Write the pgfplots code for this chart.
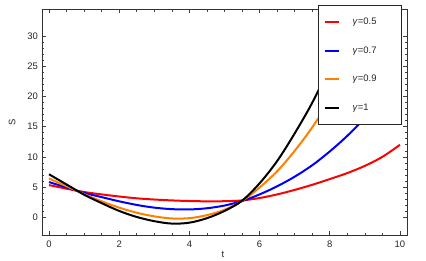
\documentclass[border=0pt]{standalone}
\usepackage{fontspec}
\setmainfont{Liberation Sans}
\usepackage{pgfplots}
\pgfplotsset{compat=1.18}
\definecolor{cred}{RGB}{255,0,0}
\definecolor{cblue}{RGB}{0,0,255}
\definecolor{corange}{RGB}{255,128,0}
\begin{document}
\begin{tikzpicture}
\begin{axis}[name=ax,
  scale only axis, width=365bp, height=225.5bp,
  xmin=-0.2, xmax=10.2, ymin=-3, ymax=34.5,
  xtick={0,2,...,10}, ytick={0,5,...,30},
  minor x tick num=3, minor y tick num=4,
  major tick length=4bp, minor tick length=2.5bp,
  every tick/.style={black!75, line width=0.6bp},
  axis line style={black!80, line width=0.8bp},
  /pgf/number format/assume math mode=true,
  tick label style={font=\fontsize{9.5}{11}\selectfont, text=black!85},
  xticklabel style={yshift=-2bp},
  yticklabel style={xshift=-0.5bp},
  xlabel={t}, ylabel={S},
  label style={font=\fontsize{9.5}{11}\selectfont, text=black!85},
  xlabel style={at={(axis description cs:0.496,-0.072)}, anchor=north, inner sep=0pt},
  ylabel style={at={(axis description cs:-0.082,0.5)}, anchor=center},
  legend style={at={(0.9863,1.02)}, anchor=north east, draw=black!85, line width=0.7bp,
    inner xsep=5bp, inner ysep=12bp, font=\fontsize{9.5}{11}\selectfont, text=black!85,
    row sep=19.7bp, /tikz/column sep=13bp,
    nodes={inner sep=0pt, text width=44bp, align=left, text height=7bp, text depth=2bp}},
  legend cell align=left,
  legend image code/.code={\draw[#1, line width=2bp] (0bp,0bp) -- (14bp,0bp);},
  every axis plot/.append style={line width=2bp, smooth, tension=0.55},
]
\addplot[cred] coordinates {(0,5.3) (0.5,4.7) (1,4.15) (1.5,3.75) (2,3.4) (2.5,3.1) (3,2.9) (3.5,2.75) (4,2.65) (4.5,2.6) (5,2.62) (5.5,2.75) (6,3.15) (6.5,3.75) (7,4.5) (7.5,5.35) (8,6.3) (8.5,7.3) (9,8.5) (9.5,10.0) (10,12.0)};
\addlegendentry{\textit{γ}=0.5}
\addplot[cblue] coordinates {(0,5.8) (0.5,4.9) (1,4.0) (1.5,3.3) (2,2.6) (2.5,2.0) (3,1.55) (3.5,1.3) (4,1.25) (4.5,1.45) (5,1.9) (5.5,2.65) (6,3.75) (6.5,5.1) (7,6.7) (7.5,8.6) (8,10.9) (8.5,13.5) (9,16.5) (9.5,20) (10,24)};
\addlegendentry{\textit{γ}=0.7}
\addplot[corange] coordinates {(0,6.4) (0.5,5.1) (1,3.8) (1.5,2.6) (2,1.55) (2.5,0.7) (3,0.1) (3.5,-0.25) (4,-0.2) (4.5,0.3) (5,1.2) (5.5,2.65) (6,4.9) (6.5,7.6) (7,11.0) (7.5,14.9) (8,19.5) (8.5,25) (9,31) (9.5,38) (10,46)};
\addlegendentry{\textit{γ}=0.9}
\addplot[black] coordinates {(0,7.1) (0.5,5.4) (1,3.7) (1.5,2.3) (2,1.0) (2.5,0.0) (3,-0.7) (3.5,-1.1) (4,-0.95) (4.5,-0.2) (5,1.0) (5.5,2.7) (6,5.6) (6.5,9.3) (7,13.9) (7.5,19.0) (8,25) (8.5,32) (9,40) (9.5,49) (10,59)};
\addlegendentry{\textit{γ}=1}
\end{axis}
\pgfresetboundingbox
\path ([xshift=-42bp,yshift=-26bp]ax.south west) rectangle ([xshift=19bp,yshift=9.5bp]ax.north east);
\end{tikzpicture}
\end{document}
